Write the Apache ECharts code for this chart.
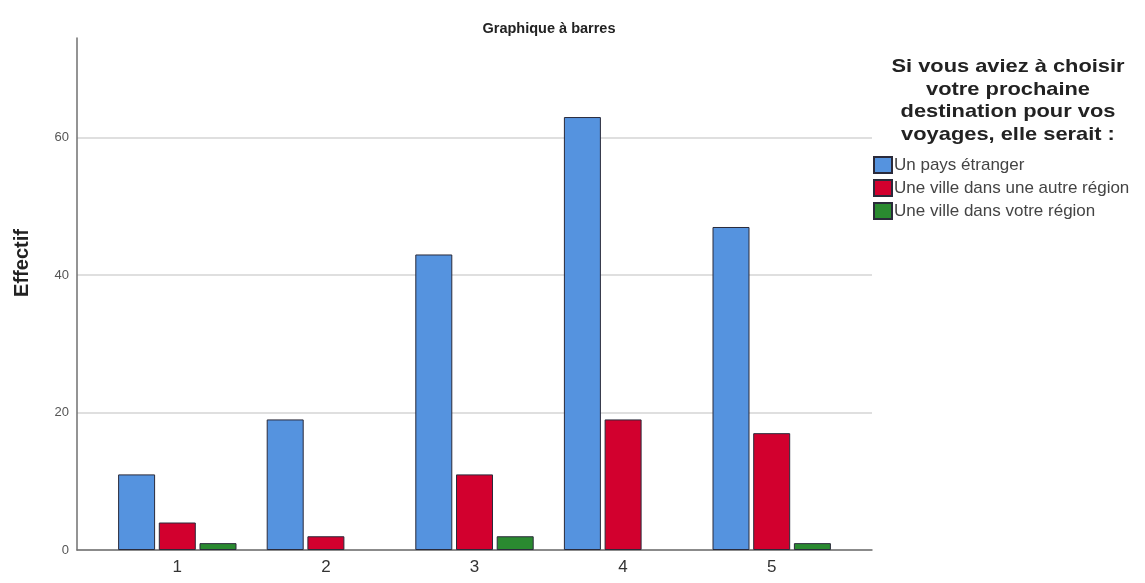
<!DOCTYPE html>
<html>
<head>
<meta charset="utf-8">
<script src="https://cdn.jsdelivr.net/npm/echarts@6/dist/echarts.min.js"></script>
<style>
  html, body { margin: 0; padding: 0; background: #fff; }
  #chart { width: 1145px; height: 583px; }
</style>
</head>
<body>
<div id="chart"></div>
<script>
// data
const categories = ['1', '2', '3', '4', '5'];
const paysEtranger = [11, 19, 43, 63, 47];
const autreRegion = [4, 2, 11, 19, 17];
const votreRegion = [1, 0, 2, 0, 1];
const seriesNames = ['Un pays étranger', 'Une ville dans une autre région', 'Une ville dans votre région'];
const yTicks = [0, 20, 40, 60];

const colors = ['#5593df', '#d2002e', '#2a8a30'];
const fontFamily = 'Liberation Sans, Arial, sans-serif';
const yMax = 74.5;

const chart = echarts.init(document.getElementById('chart'));

// empty counts are not drawn at all (no flat border line)
const makeBar = (name, data, i) => ({
    name: name,
    type: 'bar',
    xAxisIndex: 1,
    yAxisIndex: 1,
    data: data.map(v => (v === 0 ? '-' : v)),
    barWidth: 37,
    barGap: '10%',
    itemStyle: { color: colors[i], borderColor: '#2a2a3a', borderWidth: 1 }
});

const option = {
    animation: false,
    backgroundColor: '#fff',
    title: {
        text: 'Graphique à barres',
        left: 544, top: 16, textAlign: 'center',
        textStyle: { fontFamily: fontFamily, fontSize: 14.5, fontWeight: 'bold', color: '#222' }
    },
    legend: {
        orient: 'vertical',
        left: 873, top: 156,
        icon: 'rect',
        itemWidth: 18, itemHeight: 16,
        itemGap: 5,
        padding: 0,
        data: seriesNames,
        textStyle: { fontFamily: fontFamily, fontSize: 17, lineHeight: 16, color: '#444', padding: [0, 0, 0, -3] }
    },
    graphic: [
        {
            type: 'text',
            x: 22, y: 263,
            rotation: Math.PI / 2,
            style: {
                text: 'Effectif',
                fontFamily: fontFamily, fontSize: 20, fontWeight: 'bold', fill: '#222',
                align: 'center', verticalAlign: 'middle'
            }
        },
        {
            type: 'text',
            x: 1008, y: 55.5,
            scaleX: 1.15,
            style: {
                text: 'Si vous aviez à choisir\nvotre prochaine\ndestination pour vos\nvoyages, elle serait :',
                fontFamily: fontFamily, fontSize: 19, fontWeight: 'bold', fill: '#222',
                lineHeight: 22.7, align: 'center', verticalAlign: 'top'
            }
        }
    ],
    grid: [
        { left: 77, right: 273, top: 38, bottom: 33 },
        { left: 103, width: 743, top: 38, bottom: 33 }
    ],
    xAxis: [
        {
            gridIndex: 0, type: 'value', min: 0, max: 1,
            axisLine: { show: true, lineStyle: { color: '#707070', width: 1.5 } },
            axisTick: { show: false }, axisLabel: { show: false }, splitLine: { show: false }
        },
        {
            gridIndex: 1, type: 'category', data: categories,
            axisLine: { show: false }, axisTick: { show: false },
            axisLabel: { fontFamily: fontFamily, fontSize: 17, color: '#333', margin: 9 }
        }
    ],
    yAxis: [
        {
            gridIndex: 0, type: 'value', min: 0, max: yMax, interval: 20,
            axisLine: { show: true, lineStyle: { color: '#707070', width: 1.5 } },
            axisTick: { show: false },
            axisLabel: {
                fontFamily: fontFamily, fontSize: 13, color: '#555', margin: 8,
                formatter: v => (yTicks.indexOf(v) >= 0 ? String(v) : '')
            },
            splitLine: { show: true, showMaxLine: false, lineStyle: { color: '#d4d4d4', width: 1.5 } }
        },
        {
            gridIndex: 1, type: 'value', min: 0, max: yMax, show: false
        }
    ],
    series: [
        makeBar(seriesNames[0], paysEtranger, 0),
        makeBar(seriesNames[1], autreRegion, 1),
        makeBar(seriesNames[2], votreRegion, 2)
    ]
};

chart.setOption(option);
</script>
</body>
</html>
